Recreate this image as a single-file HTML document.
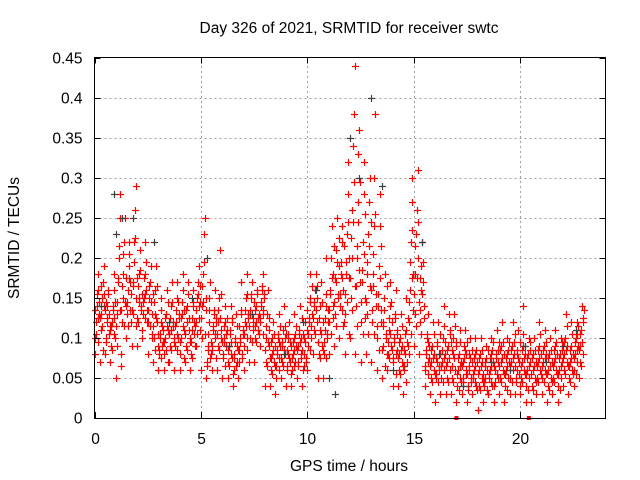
<!DOCTYPE html>
<html><head><meta charset="utf-8"><style>
body{margin:0;background:#fff}
svg{display:block;font-family:"Liberation Sans",sans-serif}
</style></head><body>
<svg id="chart" width="640" height="480" viewBox="0 0 640 480">
<rect width="640" height="480" fill="#fff"/>
<g id="grid"></g>
<g id="marks"></g>
<rect x="94.5" y="57.5" width="511" height="361" fill="none" stroke="#000" stroke-width="1"/>
<g id="ticks"></g>
<text x="349" y="33" font-size="15.5" text-anchor="middle">Day 326 of 2021, SRMTID for receiver swtc</text>
<text x="349" y="471" font-size="15.5" text-anchor="middle">GPS time / hours</text>
<text transform="translate(19,238) rotate(-90)" font-size="15.5" text-anchor="middle">SRMTID / TECUs</text>
</svg>
<script>
const xTicks=[0,5,10,15,20];
const yTicks=[0,0.05,0.1,0.15,0.2,0.25,0.3,0.35,0.4,0.45];
const yTickLabels=["0","0.05","0.1","0.15","0.2","0.25","0.3","0.35","0.4","0.45"];
const binStart=[0,0.25,0.5,0.75,1,1.25,1.5,1.75,2,2.25,2.5,2.75,3,3.25,3.5,3.75,4,4.25,4.5,4.75,5,5.25,5.5,5.75,6,6.25,6.5,6.75,7,7.25,7.5,7.75,8,8.25,8.5,8.75,9,9.25,9.5,9.75,10,10.25,10.5,10.75,11,11.25,11.5,11.75,12,12.25,12.5,12.75,13,13.25,13.5,13.75,14,14.25,14.5,14.75,15,15.25,15.5,15.75,16,16.25,16.5,16.75,17,17.25,17.5,17.75,18,18.25,18.5,18.75,19,19.25,19.5,19.75,20,20.25,20.5,20.75,21,21.25,21.5,21.75,22,22.25,22.5,22.75];
const redValues=[
[.08,.10,.12,.14,.16,.18,.13],[.07,.11,.13,.15,.17,.19,.14],[.08,.10,.12,.14,.16,.13,.11],[.07,.09,.12,.14,.16,.18,.10],
[.05,.09,.13,.17,.20,.25,.28],[.08,.12,.15,.18,.22,.25,.14],[.10,.13,.16,.19,.22,.17,.12],[.09,.13,.17,.22,.26,.29,.15],
[.09,.12,.15,.18,.21,.14,.11],[.10,.13,.15,.18,.22,.16,.12],[.08,.12,.15,.17,.19,.13,.10],[.07,.10,.13,.16,.19,.12,.09],
[.06,.08,.10,.12,.15,.09,.11],[.06,.08,.10,.13,.16,.11,.07],[.07,.09,.11,.14,.17,.12,.10],[.06,.09,.12,.15,.17,.10,.13],
[.06,.08,.10,.13,.16,.18,.11],[.07,.09,.12,.14,.17,.11,.10],[.06,.08,.11,.14,.16,.12,.09],[.09,.12,.15,.17,.19,.14,.11],
[.06,.10,.14,.18,.23,.25,.15],[.05,.07,.09,.12,.15,.17,.08],[.06,.09,.11,.13,.16,.10,.12],[.06,.09,.12,.15,.21,.11,.10],
[.05,.08,.10,.12,.14,.09,.11],[.05,.07,.09,.11,.14,.08,.12],[.04,.06,.08,.10,.13,.07,.09],[.05,.07,.10,.13,.17,.08,.11],
[.06,.09,.12,.15,.18,.10,.13],[.07,.10,.13,.15,.17,.12,.11],[.07,.10,.12,.14,.16,.11,.13],[.09,.12,.14,.16,.18,.13,.15],
[.04,.07,.10,.13,.16,.09,.11],[.04,.06,.08,.10,.12,.07,.09],[.03,.05,.08,.10,.13,.06,.09],[.05,.07,.09,.11,.14,.08,.10],
[.04,.06,.08,.10,.12,.07,.09],[.04,.06,.08,.10,.13,.07,.09],[.05,.07,.09,.11,.14,.08,.10],[.04,.06,.08,.10,.12,.07,.11],
[.06,.09,.12,.15,.18,.10,.13],[.08,.11,.14,.16,.18,.12,.15],[.05,.08,.11,.14,.17,.09,.12],[.05,.08,.11,.14,.20,.10,.12],
[.08,.12,.16,.20,.24,.14,.18],[.09,.13,.17,.21,.25,.15,.19],[.10,.14,.18,.22,.24,.16,.12],[.08,.13,.18,.23,.28,.32,.20],
[.10,.15,.20,.26,.34,.38,.44],[.08,.14,.20,.27,.33,.36,.17],[.07,.12,.17,.22,.28,.32,.15],[.08,.13,.18,.23,.27,.30,.16],
[.07,.12,.18,.24,.30,.38,.14],[.06,.10,.14,.19,.24,.28,.12],[.05,.09,.12,.15,.18,.10,.08],[.06,.08,.11,.14,.17,.09,.12],
[.04,.07,.10,.13,.16,.08,.11],[.04,.06,.08,.10,.13,.07,.09],[.03,.06,.08,.11,.15,.07,.09],[.08,.12,.16,.22,.27,.30,.18],
[.09,.13,.18,.23,.26,.31,.20],[.08,.12,.16,.19,.22,.17,.14],[.04,.06,.08,.10,.13,.07,.09],[.03,.05,.07,.09,.12,.06,.08],
[.02,.05,.07,.09,.12,.06,.08],[.03,.05,.07,.10,.14,.06,.08],[.03,.05,.07,.09,.13,.06,.11],[.03,.05,.08,.10,.13,.06,.09],
[.02,.04,.06,.08,.11,.05,.07],[.03,.05,.07,.09,.11,.06,.08],[.02,.04,.06,.08,.10,.05,.07],[.03,.05,.06,.08,.10,.04,.07],
[.01,.04,.06,.08,.10,.05,.07],[.02,.04,.05,.07,.09,.06,.03],[.03,.05,.06,.08,.10,.04,.07],[.02,.04,.06,.08,.11,.05,.07],
[.03,.05,.07,.09,.12,.06,.08],[.02,.04,.06,.08,.10,.05,.07],[.03,.05,.07,.09,.12,.06,.08],[.03,.05,.06,.08,.11,.07,.04],
[.03,.05,.07,.09,.14,.06,.08],[.02,.04,.06,.08,.10,.05,.07],[.02,.04,.06,.08,.10,.05,.07],[.03,.05,.07,.09,.12,.06,.08],
[.03,.05,.07,.09,.11,.06,.08],[.02,.04,.06,.08,.10,.05,.07],[.03,.05,.07,.09,.11,.06,.08],[.02,.04,.06,.08,.10,.05,.07],
[.04,.06,.08,.10,.13,.07,.09],[.03,.05,.07,.09,.12,.06,.08],[.04,.06,.08,.10,.12,.07,.09],[.05,.07,.09,.11,.14,.08,.12]];
const redValues2=[
[.135,.105,.155,.125,.095,.145],[.125,.165,.115,.085,.155,.135],[.095,.145,.125,.155,.105,.115],[.115,.085,.135,.105,.125,.145],
[.115,.145,.175,.215,.135,.065],[.135,.165,.205,.115,.145,.175],[.145,.115,.175,.205,.135,.155],[.135,.165,.195,.225,.115,.175],
[.125,.165,.145,.185,.135,.155],[.145,.175,.125,.155,.195,.135],[.135,.165,.115,.145,.105,.155],[.115,.145,.085,.125,.165,.105],
[.085,.105,.135,.075,.115,.095],[.095,.125,.085,.115,.145,.105],[.105,.125,.085,.145,.115,.095],[.115,.135,.085,.105,.145,.125],
[.095,.125,.145,.115,.075,.135],[.105,.135,.085,.155,.125,.095],[.095,.125,.075,.145,.105,.115],[.135,.105,.155,.125,.165,.145],
[.125,.165,.145,.195,.105,.135],[.065,.105,.085,.135,.075,.095],[.085,.115,.135,.105,.075,.125],[.105,.135,.085,.125,.155,.095],
[.075,.095,.115,.065,.105,.125],[.085,.065,.105,.095,.125,.075],[.055,.075,.095,.065,.115,.085],[.085,.115,.095,.135,.075,.105],
[.105,.135,.115,.155,.085,.125],[.115,.135,.155,.095,.125,.145],[.115,.135,.095,.155,.125,.105],[.125,.145,.165,.105,.135,.155],
[.085,.115,.065,.095,.125,.075],[.075,.095,.055,.085,.105,.065],[.065,.085,.105,.075,.095,.115],[.075,.095,.065,.085,.115,.105],
[.065,.085,.105,.075,.095,.055],[.075,.095,.065,.085,.105,.115],[.085,.065,.105,.095,.075,.125],[.085,.105,.065,.095,.075,.135],
[.105,.125,.145,.085,.115,.165],[.125,.145,.105,.135,.165,.095],[.095,.125,.075,.105,.145,.085],[.095,.125,.075,.155,.105,.135],
[.135,.155,.105,.175,.125,.215],[.145,.175,.115,.195,.155,.225],[.155,.195,.135,.175,.115,.215],[.155,.195,.145,.245,.175,.105],
[.175,.225,.135,.245,.295,.165],[.165,.215,.115,.245,.185,.295],[.145,.185,.105,.205,.255,.125],[.145,.195,.105,.215,.165,.245],
[.135,.165,.205,.105,.255,.155],[.115,.155,.085,.175,.135,.215],[.085,.115,.135,.065,.105,.165],[.095,.125,.075,.105,.145,.085],
[.075,.095,.125,.055,.085,.105],[.075,.095,.055,.085,.115,.065],[.065,.085,.105,.045,.095,.125],[.145,.195,.105,.175,.235,.135],
[.155,.215,.115,.175,.245,.145],[.135,.175,.105,.155,.195,.125],[.065,.085,.105,.055,.095,.075],[.065,.085,.045,.075,.105,.055],
[.055,.075,.095,.045,.065,.105],[.065,.085,.045,.075,.115,.095],[.065,.085,.045,.075,.105,.095],[.065,.085,.045,.075,.115,.095],
[.055,.075,.035,.065,.095,.045],[.065,.045,.075,.085,.055,.095],[.055,.035,.065,.075,.045,.085],[.055,.075,.045,.065,.085,.035],
[.055,.075,.035,.065,.085,.045],[.055,.045,.065,.075,.035,.085],[.055,.075,.045,.065,.085,.095],[.065,.045,.075,.055,.085,.095],
[.065,.085,.045,.075,.095,.055],[.055,.075,.035,.065,.085,.095],[.065,.085,.045,.075,.095,.105],[.065,.045,.085,.075,.055,.095],
[.065,.085,.045,.105,.075,.055],[.055,.075,.035,.065,.085,.095],[.055,.075,.035,.065,.085,.045],[.065,.085,.045,.075,.105,.055],
[.065,.085,.045,.075,.095,.055],[.055,.075,.035,.065,.085,.045],[.065,.085,.045,.075,.095,.055],[.055,.075,.035,.065,.085,.095],
[.075,.095,.055,.085,.115,.065],[.065,.085,.045,.075,.105,.055],[.075,.095,.055,.085,.105,.115],[.085,.105,.065,.095,.125,.135]];
const grayTimes=[0.3,0.9,1.0,1.3,1.8,2.8,3.5,4.6,5.3,6.3,7.4,8.9,9.8,10.4,11.0,11.3,12.0,12.4,13.0,13.5,14.0,15.4,16.2,17.3,18.6,19.5,20.2,21.2,22.0,22.6];
const grayValues=[0.14,0.28,0.23,0.25,0.25,0.22,0.12,0.15,0.2,0.09,0.13,0.08,0.12,0.16,0.05,0.03,0.35,0.3,0.4,0.29,0.06,0.22,0.08,0.04,0.07,0.06,0.09,0.07,0.09,0.11];
const zeroMarkTimes=[17.0,20.4];

const NS="http://www.w3.org/2000/svg";
const X0=94.5,X1=605.5,Y0=418,Y1=57.5,XMAX=24,YMAX=0.45;
function xs(t){return X0+(X1-X0)*t/XMAX;}
function ys(v){return Y0-(Y0-Y1)*v/YMAX;}
function mk(tag,attrs,parent){const e=document.createElementNS(NS,tag);for(const k in attrs)e.setAttribute(k,attrs[k]);parent.appendChild(e);return e;}
const grid=document.getElementById('grid'),ticks=document.getElementById('ticks'),marks=document.getElementById('marks');
yTicks.forEach((v,i)=>{
  const y=Math.round(ys(v))+0.5;
  if(i>0&&i<yTicks.length-1){const g=mk('line',{x1:X0,x2:X1,y1:y,y2:y,stroke:'#a0a0a0','stroke-dasharray':'2,3'},grid);
  
  }
  mk('line',{x1:X0,x2:X0+6,y1:y,y2:y,stroke:'#000'},ticks);
  mk('line',{x1:X1-6,x2:X1,y1:y,y2:y,stroke:'#000'},ticks);
  const t=mk('text',{x:X0-12,y:y+5,'font-size':15.5,'text-anchor':'end'},ticks);t.textContent=yTickLabels[i];
  
  
});
xTicks.forEach(v=>{
  const x=Math.round(xs(v))+0.5;
  if(v>0){const g=mk('line',{x1:x,x2:x,y1:Y0,y2:Y1,stroke:'#a0a0a0','stroke-dasharray':'2,3'},grid);
  
  }
  mk('line',{x1:x,x2:x,y1:Y0,y2:Y0-6,stroke:'#000'},ticks);
  mk('line',{x1:x,x2:x,y1:Y1,y2:Y1+6,stroke:'#000'},ticks);
  const t=mk('text',{x:x,y:Y0+26,'font-size':15.5,'text-anchor':'middle'},ticks);t.textContent=String(v);
  
  
});
function plus(t,v,color,name){
  const x=Math.round(xs(t))+0.5,y=Math.round(ys(v))+0.5;
  const p=mk('path',{d:`M${x-3.5} ${y}H${x+3.5}M${x} ${y-3.5}V${y+3.5}`,stroke:color,'stroke-width':1.2,fill:'none'},marks);
  
  
}
binStart.forEach((t,i)=>{
  redValues[i].forEach((v,j)=>{plus(t+j*0.25/7,v,'#ff0000','srmtid-point');});
  redValues2[i].forEach((v,j)=>{plus(t+0.018+j*0.25/6,v,'#ff0000','srmtid-point');});
});
grayTimes.forEach((t,i)=>plus(t,grayValues[i],'#404040','srmtid-point-gray'));
zeroMarkTimes.forEach(t=>{
  const r=mk('rect',{x:xs(t)-2,y:Y0-2,width:4,height:4,fill:'#ff0000'},marks);
  
  
});
</script>
</body></html>
